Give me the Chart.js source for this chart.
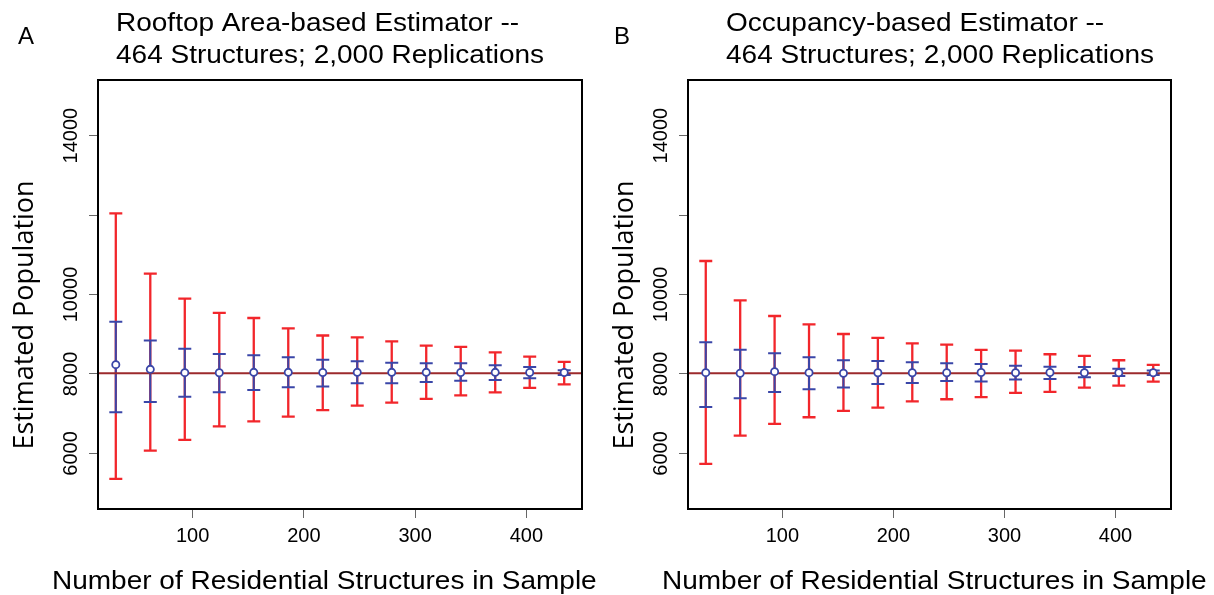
<!DOCTYPE html>
<html>
<head>
<meta charset="utf-8">
<script src="https://cdn.jsdelivr.net/npm/chart.js@4.4.1/dist/chart.umd.min.js"></script>
<style>
  body { margin: 0; background: #fff; }
  #wrap { position: relative; width: 1214px; height: 595px; overflow: hidden; }
  .panel { position: absolute; top: 0; }
</style>
</head>
<body>
<div id="wrap">
  <canvas id="chartA" class="panel" style="left:0" width="600" height="595"></canvas>
  <canvas id="chartB" class="panel" style="left:590px" width="624" height="595"></canvas>
</div>
<script>
// sample sizes (x) shared by both panels
const sampleSizes = [31, 62, 93, 124, 155, 186, 217, 248, 279, 310, 341, 372, 403, 434];
const xTicks = [100, 200, 300, 400];
const yTicks = [6000, 8000, 10000, 12000, 14000];
const yTickLabels = ['6000', '8000', '10000', '', '14000'];
const truePopulation = 8020;

// Panel A - rooftop area estimator
const rooftopMean   = [8234, 8116, 8033, 8030, 8040, 8040, 8035, 8040, 8040, 8040, 8035, 8040, 8035, 8035];
const rooftopLow95  = [5358, 6070, 6339, 6682, 6807, 6926, 7090, 7202, 7278, 7371, 7462, 7537, 7648, 7738];
const rooftopHigh95 = [12041, 10524, 9895, 9535, 9409, 9147, 8968, 8921, 8820, 8712, 8679, 8543, 8435, 8302];
const rooftopLowSd  = [7034, 7295, 7429, 7537, 7597, 7663, 7685, 7764, 7764, 7799, 7831, 7849, 7890, 7975];
const rooftopHighSd = [9316, 8845, 8637, 8503, 8468, 8418, 8360, 8317, 8284, 8267, 8267, 8216, 8176, 8095];

// Panel B - occupancy estimator
const occMean   = [8033, 8017, 8058, 8033, 8017, 8030, 8030, 8030, 8035, 8030, 8035, 8030, 8030, 8030];
const occLow95  = [5736, 6448, 6742, 6910, 7069, 7152, 7308, 7363, 7414, 7522, 7547, 7656, 7706, 7807];
const occHigh95 = [10843, 9854, 9459, 9250, 9006, 8906, 8772, 8738, 8604, 8587, 8496, 8453, 8345, 8226];
const occLowSd  = [7170, 7389, 7547, 7615, 7656, 7748, 7770, 7824, 7807, 7857, 7874, 7916, 7950, 7975];
const occHighSd = [8797, 8612, 8520, 8420, 8344, 8327, 8293, 8268, 8252, 8209, 8184, 8176, 8133, 8085];

const RED = '#f2262b';
const BLUE = '#3a46a8';
const LINE = '#9c2a2c';

function drawText(ctx, str, x, y, font, sx) {
    ctx.save();
    ctx.translate(x, y);
    ctx.scale(sx, 1);
    ctx.font = font;
    ctx.fillStyle = '#000';
    ctx.textAlign = 'left';
    ctx.textBaseline = 'alphabetic';
    ctx.fillText(str, 0, 0);
    ctx.restore();
}

// error bars with caps, placed with the chart's own scales
const errorBars = {
    id: 'errorBars',
    beforeDatasetsDraw(chart, args, opts) {
        const ctx = chart.ctx;
        const xs = chart.scales.x, ys = chart.scales.y;
        const bar = (lo, hi, color, w) => {
            ctx.strokeStyle = color;
            ctx.lineWidth = w;
            sampleSizes.forEach((n, i) => {
                const x = xs.getPixelForValue(n);
                const y1 = ys.getPixelForValue(lo[i]);
                const y2 = ys.getPixelForValue(hi[i]);
                ctx.beginPath();
                ctx.moveTo(x, y1); ctx.lineTo(x, y2);
                ctx.moveTo(x - 6.5, y1); ctx.lineTo(x + 6.5, y1);
                ctx.moveTo(x - 6.5, y2); ctx.lineTo(x + 6.5, y2);
                ctx.stroke();
            });
        };
        ctx.save();
        bar(opts.low95, opts.high95, RED, 2.3);
        bar(opts.lowSd, opts.highSd, BLUE, 2);
        ctx.restore();
    }
};

// titles, axis labels, rotated y tick labels and the plot box
const decorations = {
    id: 'decorations',
    afterDraw(chart, args, opts) {
        const ctx = chart.ctx;
        const a = chart.chartArea;
        const ys = chart.scales.y;
        ctx.save();
        ctx.strokeStyle = '#000';
        ctx.lineWidth = 2;
        ctx.strokeRect(a.left, a.top, a.right - a.left, a.bottom - a.top);

        drawText(ctx, opts.letter, opts.letterX, 44, '24px "Liberation Sans", Arial, sans-serif', 1);
        drawText(ctx, opts.title[0], opts.titleX, 31, '25px "Liberation Sans", Arial, sans-serif', 1.12);
        drawText(ctx, opts.title[1], opts.titleX, 63, '25px "Liberation Sans", Arial, sans-serif', 1.12);
        drawText(ctx, 'Number of Residential Structures in Sample', opts.xTitleX, 589,
            '25px "Liberation Sans", Arial, sans-serif', 1.12);

        ctx.fillStyle = '#000';
        ctx.textAlign = 'center';
        ctx.textBaseline = 'alphabetic';
        ctx.save();
        ctx.translate(opts.yTitleX, 315);
        ctx.rotate(-Math.PI / 2);
        ctx.font = '27px "Open Sans", sans-serif';
        ctx.fillText('Estimated Population', 0, 0);
        ctx.restore();

        ctx.font = '20px "Liberation Sans", Arial, sans-serif';
        yTicks.forEach((v, i) => {
            ctx.save();
            ctx.translate(opts.yTickX, ys.getPixelForValue(v));
            ctx.rotate(-Math.PI / 2);
            ctx.fillText(yTickLabels[i], 0, 0);
            ctx.restore();
        });
        ctx.restore();
    }
};

function makePanel(id, mean, low95, high95, lowSd, highSd, padRight, deco) {
    new Chart(document.getElementById(id), {
        type: 'scatter',
        data: {
            datasets: [
                {
                    label: 'Mean estimate',
                    data: sampleSizes.map((n, i) => ({ x: n, y: mean[i] })),
                    pointStyle: 'circle',
                    pointRadius: 3.6,
                    pointBorderWidth: 1.8,
                    pointBorderColor: BLUE,
                    pointBackgroundColor: '#fff'
                },
                {
                    label: 'True population',
                    type: 'line',
                    data: [{ x: 15, y: truePopulation }, { x: 450, y: truePopulation }],
                    borderColor: LINE,
                    borderWidth: 2,
                    pointRadius: 0
                }
            ]
        },
        options: {
            responsive: false,
            animation: false,
            layout: { padding: { top: 80, right: padRight, left: 0, bottom: 0 } },
            plugins: {
                legend: { display: false },
                tooltip: { enabled: false },
                errorBars: { low95, high95, lowSd, highSd },
                decorations: deco
            },
            scales: {
                x: {
                    type: 'linear',
                    min: 15,
                    max: 450,
                    afterBuildTicks: (s) => { s.ticks = xTicks.map(v => ({ value: v })); },
                    afterFit: (s) => { s.height = 86; },
                    grid: { drawOnChartArea: false, drawTicks: true, tickLength: 9, color: '#666', lineWidth: 1 },
                    border: { display: false },
                    ticks: {
                        color: '#000',
                        padding: 6,
                        maxRotation: 0,
                        font: { family: '"Liberation Sans", Arial, sans-serif', size: 20 }
                    }
                },
                y: {
                    type: 'linear',
                    min: 4600,
                    max: 15400,
                    afterBuildTicks: (s) => { s.ticks = yTicks.map(v => ({ value: v })); },
                    afterFit: (s) => { s.width = 98; },
                    grid: { drawOnChartArea: false, drawTicks: true, tickLength: 9, color: '#666', lineWidth: 1 },
                    border: { display: false },
                    ticks: { display: false }
                }
            }
        },
        plugins: [errorBars, decorations]
    });
}

makePanel('chartA', rooftopMean, rooftopLow95, rooftopHigh95, rooftopLowSd, rooftopHighSd, 18, {
    letter: 'A', letterX: 18, titleX: 116, xTitleX: 52, yTitleX: 33, yTickX: 77,
    title: ['Rooftop Area-based Estimator --', '464 Structures; 2,000 Replications']
});
makePanel('chartB', occMean, occLow95, occHigh95, occLowSd, occHighSd, 43, {
    letter: 'B', letterX: 24, titleX: 136, xTitleX: 72, yTitleX: 43, yTickX: 77,
    title: ['Occupancy-based Estimator --', '464 Structures; 2,000 Replications']
});
</script>
</body>
</html>
